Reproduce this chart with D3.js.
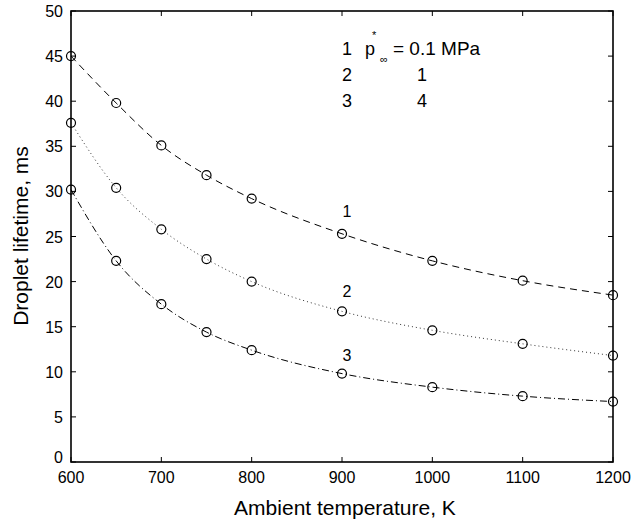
<!DOCTYPE html>
<html>
<head>
<meta charset="utf-8">
<style>
  body { margin: 0; background: #fff; }
  text { font-family: "Liberation Sans", Arial, sans-serif; fill: #000; }
</style>
</head>
<body>
<script src="https://d3js.org/d3.v7.min.js"></script>
<script>
// data
var temps = [600, 650, 700, 750, 800, 900, 1000, 1100, 1200];
var life1 = [45.0, 39.8, 35.1, 31.8, 29.2, 25.3, 22.3, 20.1, 18.5];
var life2 = [37.6, 30.4, 25.8, 22.5, 20.0, 16.7, 14.6, 13.1, 11.8];
var life3 = [30.2, 22.3, 17.5, 14.4, 12.4, 9.8, 8.3, 7.3, 6.7];
var curveLabels = ["1", "2", "3"];
var pressures = ["= 0.1 MPa", "1", "4"];
var xTicks = [600, 700, 800, 900, 1000, 1100, 1200];
var yTicks = [0, 5, 10, 15, 20, 25, 30, 35, 40, 45, 50];

var W = 632, H = 522;
// plot box (note: "top" is reserved on window, so use pTop etc.)
var pLeft = 71, pRight = 613, pTop = 11, pBottom = 462;

var svg = d3.select("body").append("svg")
    .attr("width", W)
    .attr("height", H);

var x = d3.scaleLinear().domain([600, 1200]).range([pLeft, pRight]);
var y = d3.scaleLinear().domain([0, 50]).range([pBottom, pTop]);

// ticks on all four sides, pointing inwards
var tl = 5;
var g = svg.append("g").attr("stroke", "#000").attr("stroke-width", 1);
xTicks.forEach(function (t) {
    g.append("line").attr("x1", x(t)).attr("x2", x(t)).attr("y1", pBottom).attr("y2", pBottom - tl);
    g.append("line").attr("x1", x(t)).attr("x2", x(t)).attr("y1", pTop).attr("y2", pTop + tl);
});
yTicks.forEach(function (t) {
    g.append("line").attr("x1", pLeft).attr("x2", pLeft + tl).attr("y1", y(t)).attr("y2", y(t));
    g.append("line").attr("x1", pRight).attr("x2", pRight - tl).attr("y1", y(t)).attr("y2", y(t));
});
svg.append("rect")
    .attr("x", pLeft).attr("y", pTop)
    .attr("width", pRight - pLeft).attr("height", pBottom - pTop)
    .attr("fill", "none").attr("stroke", "#000").attr("stroke-width", 1.6);

// tick labels
svg.selectAll(".xt").data(xTicks).enter().append("text")
    .attr("x", function (d) { return x(d); })
    .attr("y", 483)
    .attr("text-anchor", "middle")
    .attr("font-size", "16px")
    .text(function (d) { return d; });
svg.selectAll(".yt").data(yTicks).enter().append("text")
    .attr("x", 63)
    .attr("y", function (d) { return y(d) + 6 - (d == 0 ? 5 : 0); })
    .attr("text-anchor", "end")
    .attr("font-size", "16px")
    .text(function (d) { return d; });

// axis titles
svg.append("text")
    .attr("x", 345)
    .attr("y", 515)
    .attr("text-anchor", "middle")
    .attr("font-size", "21px")
    .text("Ambient temperature, K");
svg.append("text")
    .attr("transform", "translate(28,236) rotate(-90)")
    .attr("text-anchor", "middle")
    .attr("font-size", "21px")
    .text("Droplet lifetime, ms");

// curves
var series = [life1, life2, life3];
var dashes = ["7,5", "1,3", "7,3,1,3"];
var labelUp = [17, 14, 13];
var line = d3.line()
    .x(function (d) { return x(d[0]); })
    .y(function (d) { return y(d[1]); })
    .curve(d3.curveMonotoneX);

series.forEach(function (s, i) {
    var pts = temps.map(function (t, j) { return [t, s[j]]; });
    svg.append("path")
        .attr("d", line(pts))
        .attr("fill", "none")
        .attr("stroke", i == 1 ? "#333" : "#000")
        .attr("stroke-width", 1)
        .attr("stroke-dasharray", dashes[i]);
    svg.append("g").selectAll("circle")
        .data(pts)
        .enter()
        .append("circle")
        .attr("cx", function (d) { return x(d[0]); })
        .attr("cy", function (d) { return y(d[1]); })
        .attr("r", 4.5)
        .attr("fill", "none")
        .attr("stroke", "#000")
        .attr("stroke-width", 1.2);
    // number next to the curve at 900 K
    svg.append("text")
        .attr("x", x(900) + 5)
        .attr("y", y(s[5]) - labelUp[i])
        .attr("text-anchor", "middle")
        .attr("font-size", "16px")
        .text(curveLabels[i]);
});

// legend
curveLabels.forEach(function (c, i) {
    svg.append("text")
        .attr("x", 347).attr("y", 55 + i * 26.2)
        .attr("text-anchor", "middle")
        .attr("font-size", "18px")
        .text(c);
});
svg.append("text").attr("x", 365).attr("y", 55).attr("font-size", "18px").text("p");
svg.append("text").attr("x", 372).attr("y", 39).attr("font-size", "11px").text("*");
svg.append("text").attr("x", 380).attr("y", 63).attr("font-size", "11px").text("\u221e");
svg.append("text").attr("x", 393).attr("y", 55).attr("font-size", "19px")
    .text(pressures[0]);
[1, 2].forEach(function (i) {
    svg.append("text")
        .attr("x", 422).attr("y", 55 + i * 26.2)
        .attr("text-anchor", "middle")
        .attr("font-size", "18px")
        .text(pressures[i]);
});
</script>
</body>
</html>
